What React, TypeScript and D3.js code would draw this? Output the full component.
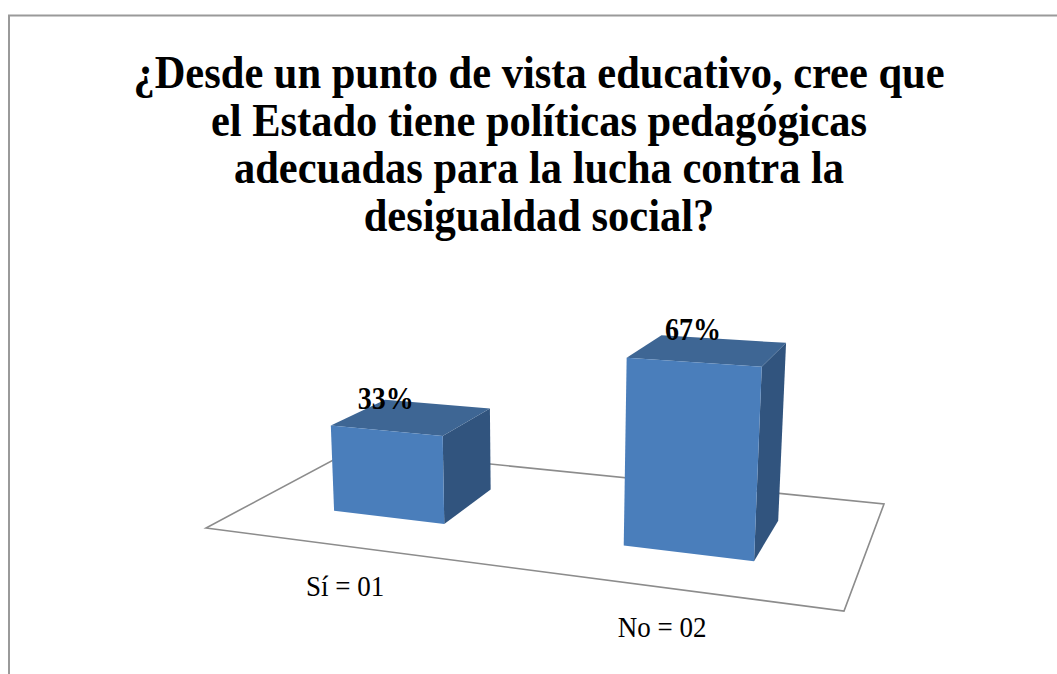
import React from "react";
import * as d3 from "d3";

const titleLines = [
  "¿Desde un punto de vista educativo, cree que",
  "el Estado tiene políticas pedagógicas",
  "adecuadas para la lucha contra la",
  "desigualdad social?",
];
const categories = ["Sí = 01", "No = 02"];
const values = [33, 67];
const valueLabels = ["33%", "67%"];

const W = 1057;
const H = 674;
const SERIF = "'Liberation Serif', 'Times New Roman', serif";
// floor quad corners (front-left, front-right, back-right, back-left) — camera layout
const FLOOR = [
  [206, 528],
  [844, 611],
  [884, 504],
  [352, 450],
];
const VPX = 540;
const TILT = 0.000186;
const DEPTH: [number, number] = [0.3, 0.7];

function makeProjection(P: number[][]) {
  const [[x0, y0], [x1, y1], [x2, y2], [x3, y3]] = P;
  const sx = x0 - x1 + x2 - x3;
  const sy = y0 - y1 + y2 - y3;
  const dx1 = x1 - x2, dx2 = x3 - x2, dy1 = y1 - y2, dy2 = y3 - y2;
  const det = dx1 * dy2 - dx2 * dy1;
  const g = (sx * dy2 - dx2 * sy) / det;
  const h = (dx1 * sy - sx * dy1) / det;
  const a = x1 - x0 + g * x1;
  const b = x3 - x0 + h * x3;
  const c = x0;
  const d = y1 - y0 + g * y1;
  const e = y3 - y0 + h * y3;
  const f = y0;
  return (u: number, v: number) => {
    const w = g * u + h * v + 1;
    return { x: (a * u + b * v + c) / w, y: (d * u + e * v + f) / w, w };
  };
}

const proj = makeProjection(FLOOR);
const xBand = d3.scaleBand<string>().domain(categories).range([0, 1]).paddingInner(0.6).paddingOuter(0.3);
const hScale = d3.scaleLinear().domain([0, 100]).range([0, 268]);

function bottom(u: number, v: number): [number, number] {
  const p = proj(u, v);
  return [p.x, p.y];
}
function top(u: number, v: number, val: number): [number, number] {
  const p = proj(u, v);
  const hp = hScale(val) / p.w;
  return [p.x + (p.x - VPX) * TILT * hp, p.y - hp];
}
const poly = (pts: [number, number][]) => pts.map((p) => p.join(",")).join(" ");

export default function App() {
  const floorPts = [[0, 0], [1, 0], [1, 1], [0, 1]].map(([u, v]) => bottom(u, v));
  return (
    <svg width={W} height={H} style={{ position: "absolute", left: 0, top: 0, background: "#fff" }}>
      <path d={`M9,${H} L9,15.5 L${W},15.5`} fill="none" stroke="#9a9a9a" strokeWidth={2} />
      <g fontFamily={SERIF} fontWeight="bold" fontSize={42.5} textAnchor="middle">
        {titleLines.map((t, i) => (
          <text key={i} transform={`translate(539,${88 + i * 47.5}) scale(1,1.1)`}>{t}</text>
        ))}
      </g>
      <polygon points={poly(floorPts)} fill="none" stroke="#8c8c8c" strokeWidth={1.6} />
      {categories.map((cat, i) => {
        const u0 = xBand(cat)!;
        const u1 = u0 + xBand.bandwidth();
        const [v0, v1] = DEPTH;
        const val = values[i];
        const fbl = bottom(u0, v0), fbr = bottom(u1, v0), bbr = bottom(u1, v1);
        const ftl = top(u0, v0, val), ftr = top(u1, v0, val), btr = top(u1, v1, val), btl = top(u0, v1, val);
        const uc = u0 + xBand.bandwidth() / 2;
        const lt = top(uc, v0, val);
        const lb = bottom(uc, 0);
        return (
          <g key={cat}>
            <polygon points={poly([fbr, bbr, btr, ftr])} fill="#31547e" />
            <polygon points={poly([ftl, ftr, btr, btl])} fill="#3e6694" />
            <polygon points={poly([fbl, fbr, ftr, ftl])} fill="#4a7ebb" />
            <text transform={`translate(${lt[0]},${lt[1] - 22}) scale(1,1.1)`} textAnchor="middle" fontFamily={SERIF} fontWeight="bold" fontSize={28} fill="#000">
              {valueLabels[i]}
            </text>
            <text transform={`translate(${lb[0]},${lb[1] + 50}) scale(1,1.08)`} textAnchor="middle" fontFamily={SERIF} fontSize={27} fill="#000">
              {cat}
            </text>
          </g>
        );
      })}
    </svg>
  );
}
